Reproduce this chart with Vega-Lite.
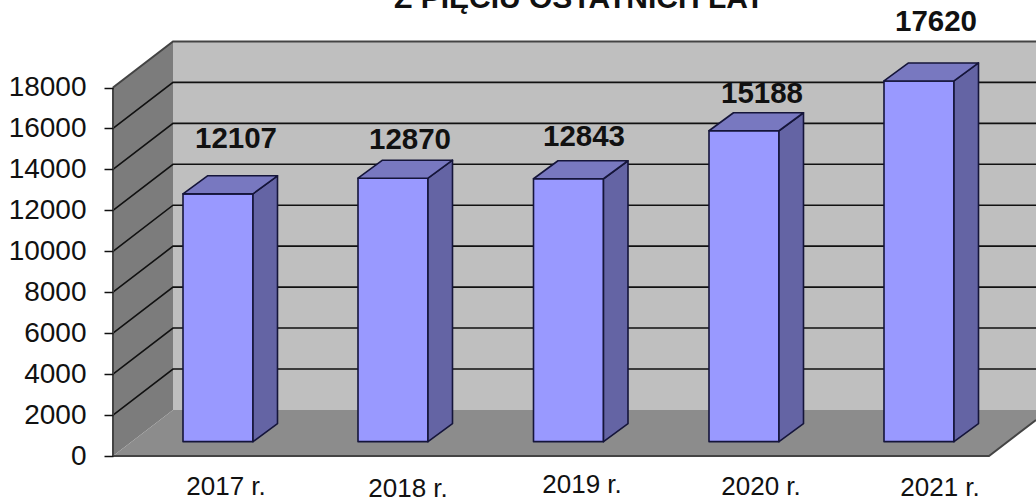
{
"$schema":"https://vega.github.io/schema/vega-lite/v6.json",
"width":1036,"height":501,"padding":0,"autosize":{"type":"none"},
"background":"white",
"config":{"view":{"stroke":null},"text":{"font":"Liberation Sans"}},
"datasets":{
"room":[
{"shape":"wall","face":"wall","x":173,"y":20250,"y2":2250},
{"shape":"wall","face":"wall","x":1036,"y":20250,"y2":2250},
{"shape":"left","face":"left","x":113,"y":18000,"y2":0},
{"shape":"left","face":"left","x":173,"y":20250,"y2":2250},
{"shape":"floor","face":"floor","x":113,"y":0,"y2":0},
{"shape":"floor","face":"floor","x":173,"y":2250,"y2":0},
{"shape":"floor","face":"floor","x":989,"y":2250,"y2":0},
{"shape":"floor","face":"floor","x":1036,"y":2250,"y2":1760}
],
"grid":[
{"level":2000,"x":113,"y":2000},{"level":2000,"x":173,"y":4250},{"level":2000,"x":1036,"y":4250},
{"level":4000,"x":113,"y":4000},{"level":4000,"x":173,"y":6250},{"level":4000,"x":1036,"y":6250},
{"level":6000,"x":113,"y":6000},{"level":6000,"x":173,"y":8250},{"level":6000,"x":1036,"y":8250},
{"level":8000,"x":113,"y":8000},{"level":8000,"x":173,"y":10250},{"level":8000,"x":1036,"y":10250},
{"level":10000,"x":113,"y":10000},{"level":10000,"x":173,"y":12250},{"level":10000,"x":1036,"y":12250},
{"level":12000,"x":113,"y":12000},{"level":12000,"x":173,"y":14250},{"level":12000,"x":1036,"y":14250},
{"level":14000,"x":113,"y":14000},{"level":14000,"x":173,"y":16250},{"level":14000,"x":1036,"y":16250},
{"level":16000,"x":113,"y":16000},{"level":16000,"x":173,"y":18250},{"level":16000,"x":1036,"y":18250}
],
"edges":[
{"edge":"top","x":113,"y":18000},{"edge":"top","x":173,"y":20250},{"edge":"top","x":1036,"y":20250},
{"edge":"front","x":113,"y":0},{"edge":"front","x":989,"y":0},{"edge":"front","x":1036,"y":1760},
{"edge":"side","x":113,"y":18000},{"edge":"side","x":113,"y":0}
],
"bars":[
{"shape":"2017f","face":"front","x":183,"y":12807,"y2":700},{"shape":"2017f","face":"front","x":253,"y":12807,"y2":700},
{"shape":"2017s","face":"side","x":253,"y":12807,"y2":700},{"shape":"2017s","face":"side","x":277.5,"y":13687,"y2":1580},
{"shape":"2017t","face":"top","x":183,"y":12807,"y2":12807},{"shape":"2017t","face":"top","x":207.5,"y":13687,"y2":12807},{"shape":"2017t","face":"top","x":253,"y":13687,"y2":12807},{"shape":"2017t","face":"top","x":277.5,"y":13687,"y2":13687},
{"shape":"2018f","face":"front","x":358,"y":13570,"y2":700},{"shape":"2018f","face":"front","x":428,"y":13570,"y2":700},
{"shape":"2018s","face":"side","x":428,"y":13570,"y2":700},{"shape":"2018s","face":"side","x":452.5,"y":14450,"y2":1580},
{"shape":"2018t","face":"top","x":358,"y":13570,"y2":13570},{"shape":"2018t","face":"top","x":382.5,"y":14450,"y2":13570},{"shape":"2018t","face":"top","x":428,"y":14450,"y2":13570},{"shape":"2018t","face":"top","x":452.5,"y":14450,"y2":14450},
{"shape":"2019f","face":"front","x":533.5,"y":13543,"y2":700},{"shape":"2019f","face":"front","x":603.5,"y":13543,"y2":700},
{"shape":"2019s","face":"side","x":603.5,"y":13543,"y2":700},{"shape":"2019s","face":"side","x":628,"y":14423,"y2":1580},
{"shape":"2019t","face":"top","x":533.5,"y":13543,"y2":13543},{"shape":"2019t","face":"top","x":558,"y":14423,"y2":13543},{"shape":"2019t","face":"top","x":603.5,"y":14423,"y2":13543},{"shape":"2019t","face":"top","x":628,"y":14423,"y2":14423},
{"shape":"2020f","face":"front","x":709,"y":15888,"y2":700},{"shape":"2020f","face":"front","x":779,"y":15888,"y2":700},
{"shape":"2020s","face":"side","x":779,"y":15888,"y2":700},{"shape":"2020s","face":"side","x":803.5,"y":16768,"y2":1580},
{"shape":"2020t","face":"top","x":709,"y":15888,"y2":15888},{"shape":"2020t","face":"top","x":733.5,"y":16768,"y2":15888},{"shape":"2020t","face":"top","x":779,"y":16768,"y2":15888},{"shape":"2020t","face":"top","x":803.5,"y":16768,"y2":16768},
{"shape":"2021f","face":"front","x":884,"y":18320,"y2":700},{"shape":"2021f","face":"front","x":954,"y":18320,"y2":700},
{"shape":"2021s","face":"side","x":954,"y":18320,"y2":700},{"shape":"2021s","face":"side","x":978.5,"y":19200,"y2":1580},
{"shape":"2021t","face":"top","x":884,"y":18320,"y2":18320},{"shape":"2021t","face":"top","x":908.5,"y":19200,"y2":18320},{"shape":"2021t","face":"top","x":954,"y":19200,"y2":18320},{"shape":"2021t","face":"top","x":978.5,"y":19200,"y2":19200}
],
"values":[
{"label":"12107","x":236,"y":15485},
{"label":"12870","x":410,"y":15437},
{"label":"12843","x":584,"y":15583},
{"label":"15188","x":762,"y":17684},
{"label":"17620","x":936,"y":21201}
],
"years":[
{"label":"2017 r.","x":226,"y":-1510},
{"label":"2018 r.","x":408,"y":-1610},
{"label":"2019 r.","x":582,"y":-1417},
{"label":"2020 r.","x":761,"y":-1490},
{"label":"2021 r.","x":940,"y":-1550}
],
"title":[{"label":"Z PIĘCIU OSTATNICH LAT","x":579,"y":21900}]
},
"layer":[
{"data":{"name":"room"},
 "mark":{"type":"area","orient":"vertical"},
 "encoding":{
  "x":{"field":"x","type":"quantitative","scale":{"domain":[0,1036],"nice":false,"zero":false},"axis":null},
  "y":{"field":"y","type":"quantitative","scale":{"domain":[-2198,22275],"nice":false,"zero":false},
   "axis":{"orient":"left","offset":-113,"values":[0,2000,4000,6000,8000,10000,12000,14000,16000,18000],"title":null,"grid":false,"domain":false,"format":"d","ticks":true,"tickSize":9,"tickColor":"#111111","tickWidth":1.5,"labelPadding":18,"labelFont":"Liberation Sans","labelFontSize":28,"labelColor":"#111111","labelOverlap":false,"labelBound":false,"labelFlush":false,"zindex":1}},
  "y2":{"field":"y2"},
  "detail":{"field":"shape"},
  "color":{"field":"face","type":"nominal","legend":null,"scale":{"domain":["wall","left","floor","front","side","top"],"range":["#bfbfbf","#7c7c7c","#8c8c8c","#9999ff","#6464a4","#7878c0"]}}
 }},
{"data":{"name":"grid"},
 "mark":{"type":"line","color":"#111111","strokeWidth":1.6},
 "encoding":{"x":{"field":"x","type":"quantitative"},"y":{"field":"y","type":"quantitative"},"detail":{"field":"level"}}},
{"data":{"name":"edges"},
 "mark":{"type":"line","color":"#444444","strokeWidth":2},
 "encoding":{"x":{"field":"x","type":"quantitative"},"y":{"field":"y","type":"quantitative"},"detail":{"field":"edge"}}},
{"data":{"name":"bars"},
 "mark":{"type":"area","orient":"vertical","stroke":"#15153a","strokeWidth":1.6,"strokeJoin":"round"},
 "encoding":{
  "x":{"field":"x","type":"quantitative"},
  "y":{"field":"y","type":"quantitative"},
  "y2":{"field":"y2"},
  "detail":{"field":"shape"},
  "color":{"field":"face","type":"nominal","legend":null}
 }},
{"data":{"name":"values"},
 "mark":{"type":"text","fontWeight":"bold","fontSize":29.5,"color":"#111111","font":"Liberation Sans","align":"center","baseline":"middle"},
 "encoding":{"x":{"field":"x","type":"quantitative"},"y":{"field":"y","type":"quantitative"},"text":{"field":"label"}}},
{"data":{"name":"years"},
 "mark":{"type":"text","fontSize":26,"color":"#111111","font":"Liberation Sans","align":"center","baseline":"middle"},
 "encoding":{"x":{"field":"x","type":"quantitative"},"y":{"field":"y","type":"quantitative"},"text":{"field":"label"}}},
{"data":{"name":"title"},
 "mark":{"type":"text","fontWeight":"bold","fontSize":30,"color":"#111111","font":"Liberation Sans","align":"center","baseline":"alphabetic"},
 "encoding":{"x":{"field":"x","type":"quantitative"},"y":{"field":"y","type":"quantitative"},"text":{"field":"label"}}}
]
}
